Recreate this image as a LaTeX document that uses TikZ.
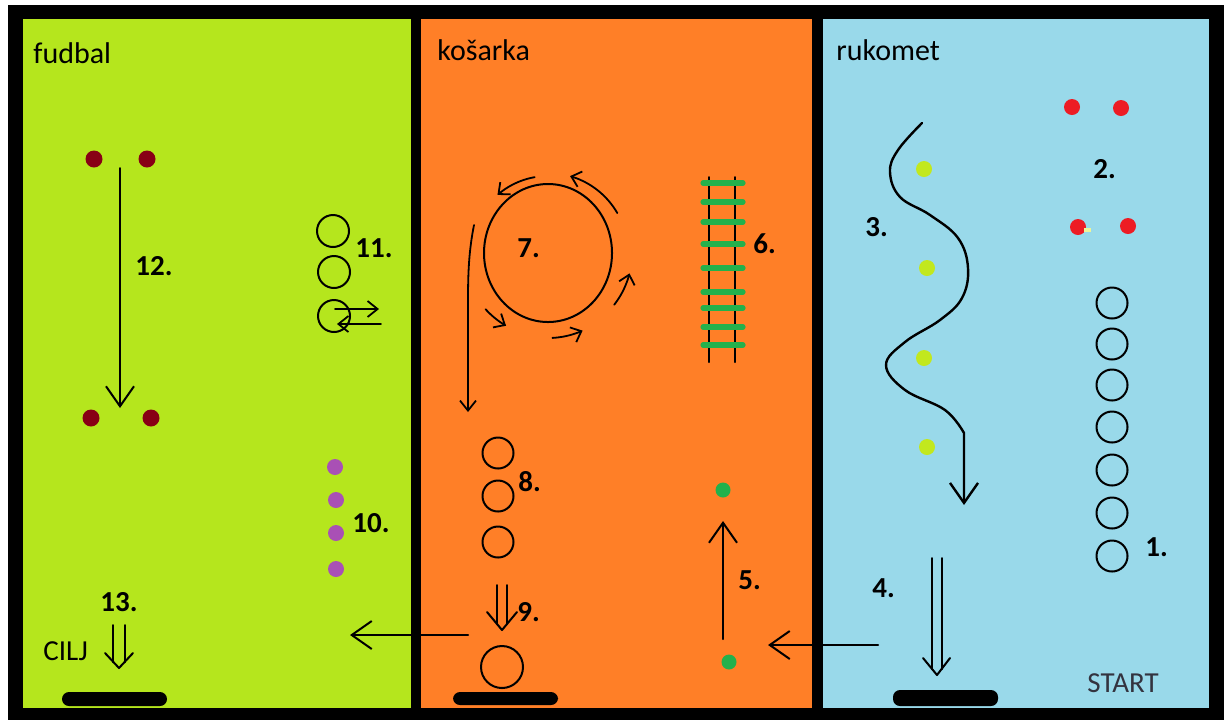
\documentclass[tikz,border=0pt]{standalone}
\usepackage{fontspec}
\setmainfont{Carlito}
\usetikzlibrary{arrows.meta}

\definecolor{fieldlime}{HTML}{B5E61D}
\definecolor{fieldorange}{HTML}{FF7F27}
\definecolor{fieldblue}{HTML}{99D9EA}
\definecolor{conedark}{HTML}{880015}
\definecolor{conered}{HTML}{ED1C24}
\definecolor{conegreen}{HTML}{22B14C}
\definecolor{conepurple}{HTML}{A950B5}
\definecolor{conelime}{HTML}{C2E81E}
\definecolor{startink}{HTML}{33333F}
\definecolor{fleck}{HTML}{EEF59A}

\tikzset{
  title/.style={font=\fontsize{15}{18}\selectfont, anchor=base west, inner sep=0pt},
  num/.style={font=\fontsize{14.5}{17}\selectfont\bfseries, anchor=west, inner sep=0pt},
  plain/.style={font=\fontsize{14.5}{17}\selectfont, anchor=west, inner sep=0pt},
  hoop/.style={draw=black, line width=1pt},
  trace/.style={draw=black, line width=1pt},
  run/.style={draw=black, line width=1pt, -{Straight Barb[length=10pt,width=14pt]}},
  runsmall/.style={draw=black, line width=0.9pt, -{Straight Barb[length=5pt,width=8pt]}},
  turn/.style={draw=black, line width=0.9pt, -{Straight Barb[length=4.5pt,width=8pt]}},
  goalbar/.style={fill=black, rounded corners=3.5pt},
  rung/.style={draw=conegreen, line width=2.6pt},
  rail/.style={draw=black, line width=1pt},
}

\begin{document}
\begin{tikzpicture}[x=0.5pt, y=-0.5pt, line cap=round, line join=round]
\useasboundingbox[fill=white] (0,0) rectangle (1229,720);

% frame and the three fields
\fill[black] (8,5) rectangle (1224,720);
\fill[fieldlime] (23,19) rectangle (411,708);
\fill[fieldorange] (421,19) rectangle (812,708);
\fill[fieldblue] (823,19) rectangle (1209,708);

% ---------------- fudbal ----------------
\node[title] (tfud) at (33,63) {fudbal};

\fill[conedark] (94,159) circle[radius=8.5];
\fill[conedark] (147,159) circle[radius=8.5];
\fill[conedark] (91,418) circle[radius=8.5];
\fill[conedark] (151,418) circle[radius=8.5];
\coordinate (s12a) at (120,168);
\coordinate (s12b) at (120,408);
\draw[run] (s12a) -- (s12b);
\node[num] (n12) at (135,266) {12.};

\draw[hoop] (333,231) circle[radius=16];
\draw[hoop] (334,272) circle[radius=16];
\draw[hoop] (334,316) circle[radius=16];
\node[num] (n11) at (355,248) {11.};
\coordinate (s11a) at (335,309);
\coordinate (s11b) at (379,309);
\coordinate (s11c) at (381,324);
\coordinate (s11d) at (337,324);
\draw[runsmall] (s11a) -- (s11b);
\draw[runsmall] (s11c) -- (s11d);

\fill[conepurple] (335,467) circle[radius=8];
\fill[conepurple] (336,500) circle[radius=8];
\fill[conepurple] (336,533) circle[radius=8];
\fill[conepurple] (336,569) circle[radius=8];
\node[num] (n10) at (352,523) {10.};

\node[num] (n13) at (100,602) {13.};
\node[plain] (cilj) at (43,651) {CILJ};
\draw[trace] (113,625) -- (113,662);
\draw[trace] (125,625) -- (125,662);
\draw[trace] (105,653) -- (119,668) -- (133,653);
\fill[goalbar] (62,692) rectangle (167,706);

% ---------------- košarka ----------------
\node[title] (tkos) at (437,60) {košarka};

\draw[trace] (548,253) ellipse[x radius=64, y radius=69];
\node[num] (n7) at (517,248) {7.};
\draw[turn] plot[domain=260:229, samples=20, variable=\t] ({548+77*cos(\t)}, {253+77*sin(\t)});
\draw[turn] plot[domain=330:286, samples=20, variable=\t] ({548+80*cos(\t)}, {253+80*sin(\t)});
\draw[turn] plot[domain=38:14, samples=20, variable=\t] ({548+84*cos(\t)}, {253+84*sin(\t)});
\draw[turn] plot[domain=87:66, samples=20, variable=\t] ({548+85*cos(\t)}, {253+85*sin(\t)});
\draw[turn] plot[domain=138:120, samples=20, variable=\t] ({548+84*cos(\t)}, {253+84*sin(\t)});

\coordinate (s7a) at (474,225);
\coordinate (s7b) at (468,412);
\draw[runsmall] (s7a) .. controls (469,250) and (468,272) .. (468,300) -- (s7b);

\draw[hoop] (498,453) circle[radius=15.5];
\draw[hoop] (498,496) circle[radius=15.5];
\draw[hoop] (498,542) circle[radius=15.5];
\node[num] (n8) at (518,482) {8.};

\draw[trace] (497,585) -- (497,624);
\draw[trace] (507,585) -- (507,624);
\draw[trace] (487,612) -- (502,630) -- (517,612);
\node[num] (n9) at (517,612) {9.};
\draw[hoop] (502,667) circle[radius=21];
\fill[goalbar] (453,692) rectangle (558,705);

% ladder
\draw[rail] (709,177) -- (709,362);
\draw[rail] (735,177) -- (735,362);
\foreach \y in {183,202,222,244,268,292,308,327,345}
  \draw[rung] (703,\y) -- (743,\y);
\node[num] (n6) at (753,244) {6.};

\fill[conegreen] (723,490) circle[radius=7.5];
\fill[conegreen] (729,662) circle[radius=7.5];
\coordinate (s5a) at (723,639);
\coordinate (s5b) at (723,521);
\draw[run] (s5a) -- (s5b);
\node[num] (n5) at (738,580) {5.};

% transfers between the fields
\coordinate (fromorange) at (468,635);
\coordinate (togreen) at (350,635);
\draw[run] (fromorange) -- (togreen);
\coordinate (fromblue) at (878,645);
\coordinate (toorange) at (768,645);
\draw[run] (fromblue) -- (toorange);

% ---------------- rukomet ----------------
\node[title] (truk) at (836,60) {rukomet};

\fill[conered] (1072,107) circle[radius=8];
\fill[conered] (1121,108) circle[radius=8];
\fill[conered] (1078,227) circle[radius=8];
\fill[conered] (1128,226) circle[radius=8];
\fill[fleck] (1084,228) rectangle (1091,232);
\node[num] (n2) at (1093,169) {2.};

\fill[conelime] (924,169) circle[radius=8];
\fill[conelime] (927,268) circle[radius=8];
\fill[conelime] (924,358) circle[radius=8];
\fill[conelime] (927,447) circle[radius=8];
\node[num] (n3) at (865,227) {3.};
\coordinate (s3a) at (922,123);
\coordinate (s3b) at (964,505);
\draw[run, line width=1.2pt] plot[smooth, tension=0.65] coordinates
  {(s3a) (898,150) (890,172) (900,197) (930,215) (958,238) (968,268) (962,298) (940,320) (905,342) (886,365) (905,390) (945,410) (964,433)}
  -- (s3b);

\foreach \y in {303,344,385,427,470,513,556}
  \draw[hoop] (1112,\y) circle[radius=15.5];
\node[num] (n1) at (1145,547) {1.};

\node[num] (n4) at (872,588) {4.};
\draw[trace] (932,558) -- (932,669);
\draw[trace] (942,558) -- (942,669);
\draw[trace] (923,658) -- (937,675) -- (950,658);
\fill[goalbar] (893,690) rectangle (998,706);

\node[plain, text=startink] (start) at (1087,683) {START};
\end{tikzpicture}
\end{document}
